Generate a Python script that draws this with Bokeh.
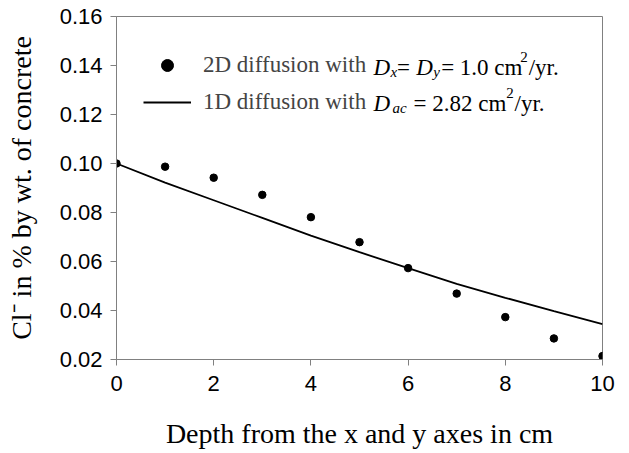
from bokeh.plotting import figure
from bokeh.models import Range1d, FixedTicker, Legend, LegendItem, Label, NumeralTickFormatter
from bokeh.embed import file_html
from bokeh.resources import INLINE

# Data
depth_pts = [0, 1, 2, 3, 4, 5, 6, 7, 8, 9, 10]
cl_2d = [0.1000, 0.0987, 0.0942, 0.0872, 0.0781, 0.0679, 0.0573, 0.0469, 0.0373, 0.0286, 0.0214]
depth_line = [0, 1, 2, 3, 4, 5, 6, 7, 8, 9, 10]
cl_1d = [0.1000, 0.0922, 0.0850, 0.0778, 0.0706, 0.0638, 0.0573, 0.0509, 0.0452, 0.0397, 0.0344]
x_ticks = [0, 2, 4, 6, 8, 10]
y_ticks = [0.02, 0.04, 0.06, 0.08, 0.10, 0.12, 0.14, 0.16]

GRAY = "#808080"
SERIF = "Liberation Serif"
SANS = "Liberation Sans"

p = figure(width=629, height=453, output_backend="svg", toolbar_location=None,
           x_range=Range1d(0, 10), y_range=Range1d(0.02, 0.16),
           min_border_left=116, min_border_right=27, min_border_top=16, min_border_bottom=94)
p.background_fill_color = "white"
p.border_fill_color = "white"
p.outline_line_color = GRAY
p.outline_line_width = 1
p.grid.visible = False

for ax in (p.xaxis[0], p.yaxis[0]):
    ax.axis_line_color = GRAY
    ax.major_tick_line_color = GRAY
    ax.minor_tick_line_color = None
    ax.major_tick_in = 0
    ax.major_tick_out = 6
    ax.major_label_text_font = SANS
    ax.major_label_text_font_size = "22px"
    ax.major_label_text_color = "black"
    ax.axis_label_text_font = SERIF
    ax.axis_label_text_font_style = "normal"
    ax.axis_label_text_font_size = "28px"
    ax.axis_label_text_color = "black"

p.xaxis[0].ticker = FixedTicker(ticks=x_ticks)
p.yaxis[0].ticker = FixedTicker(ticks=y_ticks)
p.yaxis[0].formatter = NumeralTickFormatter(format="0.00")
p.xaxis[0].major_label_standoff = 10
p.yaxis[0].major_label_standoff = 8
p.xaxis[0].axis_label = "Depth from the x and y axes in cm"
p.yaxis[0].axis_label = "Cl\u207b in % by wt. of concrete"
p.xaxis[0].axis_label_standoff = 24
p.yaxis[0].axis_label_standoff = 20

r_line = p.line(depth_line, cl_1d, line_color="black", line_width=1.8)
r_pts = p.scatter(depth_pts, cl_2d, size=7.5, marker="circle", fill_color="black", line_color="black")

legend = Legend(items=[LegendItem(label="2D diffusion with", renderers=[r_pts]),
                       LegendItem(label="1D diffusion with", renderers=[r_line])],
                location=(27, 242), padding=0, margin=0, spacing=7,
                glyph_width=48, glyph_height=30, label_standoff=12,
                label_text_font=SERIF, label_text_font_size="23px",
                background_fill_alpha=0, border_line_color=None)
p.add_layout(legend, "center")

def frag(x, y, text, size, style="normal"):
    p.add_layout(Label(x=x, y=y, text=text, text_font=SERIF, text_font_size=size,
                       text_font_style=style, text_color="black",
                       text_baseline="alphabetic", text_align="left"))

# line 1 math fragments
frag(5.29, 0.1391, "D", "23px", "italic")
frag(5.64, 0.1375, "x", "15px", "italic")
frag(5.77, 0.1391, "=", "23px")
frag(6.17, 0.1391, "D", "23px", "italic")
frag(6.52, 0.1375, "y", "15px", "italic")
frag(6.68, 0.1391, "= 1.0 cm", "23px")
frag(8.31, 0.1436, "2", "15px")
frag(8.48, 0.1391, "/yr.", "23px")
# line 2 math fragments
frag(5.29, 0.1243, "D", "23px", "italic")
frag(5.68, 0.1226, "ac", "15px", "italic")
frag(6.11, 0.1243, "= 2.82 cm", "23px")
frag(8.02, 0.1287, "2", "15px")
frag(8.19, 0.1243, "/yr.", "23px")

open("out.html", "w").write(file_html(p, INLINE))
